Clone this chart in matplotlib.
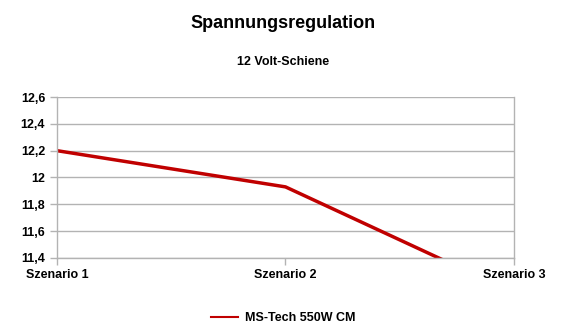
import matplotlib.pyplot as plt
from matplotlib.ticker import FuncFormatter

# Daten
szenarien = ["Szenario 1", "Szenario 2", "Szenario 3"]
spannung = [12.2, 11.93, 11.14]
serie = "MS-Tech 550W CM"

plt.rcParams['font.family'] = ['Liberation Sans', 'DejaVu Sans']

fig = plt.figure(figsize=(5.66, 3.35), dpi=100)
ax = fig.add_axes([0.1007, 0.2299, 0.8074, 0.4805])

x = list(range(len(szenarien)))
ax.plot(x, spannung, color='#c00000', lw=2.5, label=serie, solid_joinstyle='miter')

ax.set_xlim(0, 2)
ax.set_ylim(11.4, 12.6)
ax.set_yticks([11.4, 11.6, 11.8, 12.0, 12.2, 12.4, 12.6])
ax.yaxis.set_major_formatter(FuncFormatter(lambda v, p: ('%g' % round(v, 1)).replace('.', ',')))
ax.set_xticks(x)
ax.set_xticklabels(szenarien)

grau = '#b3b3b3'
ax.grid(axis='y', color=grau, lw=1)
ax.set_axisbelow(True)
for s in ['top']:
    ax.spines[s].set_visible(False)
for s in ['left', 'bottom', 'right']:
    ax.spines[s].set_color(grau)
    ax.spines[s].set_linewidth(1)
ax.tick_params(axis='both', colors=grau, labelcolor='black', labelsize=9, length=5, width=1)
ax.tick_params(axis='x', pad=3)
for t in ax.get_xticklabels() + ax.get_yticklabels():
    t.set_fontweight('bold')

fig.text(0.5, 0.93, "Spannungsregulation", ha='center', va='center',
         fontsize=13, fontweight='bold')
fig.text(0.5, 0.815, "12 Volt-Schiene", ha='center', va='center',
         fontsize=9, fontweight='bold')

leg = fig.legend(loc='center', bbox_to_anchor=(0.5, 0.05), frameon=False,
                 prop={'size': 9, 'weight': 'bold'}, handlelength=2.2, handletextpad=0.5)
for l in leg.get_lines():
    l.set_linewidth(1.5)

fig.savefig("out.png", dpi=100)
